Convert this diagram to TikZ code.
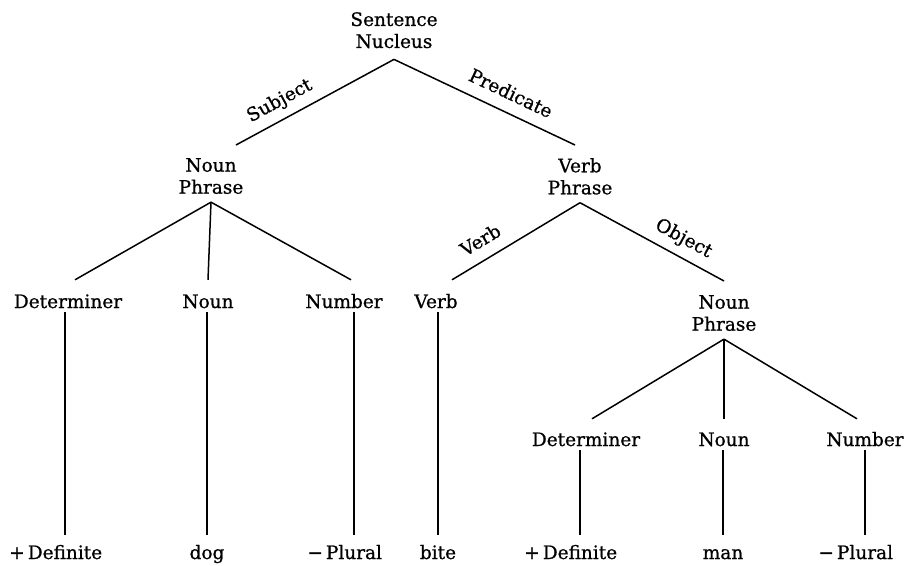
\documentclass[tikz,border=0pt]{standalone}
\usepackage{fontspec}
\setmainfont[FakeBold=0.8]{DejaVu Serif}
\def\TreeFont{\fontsize{18.5}{22}\selectfont}
\tikzset{
  cat/.style={font=\TreeFont, inner sep=0pt, align=center, anchor=north},
  word/.style={font=\TreeFont, inner sep=0pt, text height=14pt, text depth=4pt, anchor=base},
  branch/.style={line width=1.5pt},
  arc_label/.style={font=\TreeFont, sloped, above, inner sep=8pt, text depth=4pt},
}

\begin{document}
\begin{tikzpicture}[x=1pt,y=-1pt]
  \useasboundingbox (0,0) rectangle (907,565);

  % phrase nodes
  \node[cat] (sn) at (394,12) {Sentence\\Nucleus};
  \node[cat] (np_s) at (211,158) {Noun\\Phrase};
  \node[cat] (vp) at (580,158) {Verb\\Phrase};
  \node[cat] (np_o) at (724,295) {Noun\\Phrase};

  % categories
  \node[word] (det_s) at (68,308) {Determiner};
  \node[word] (noun_s) at (208,308) {Noun};
  \node[word] (num_s) at (344,308) {Number};
  \node[word] (verb) at (436,308) {Verb};
  \node[word] (det_o) at (586,446) {Determiner};
  \node[word] (noun_o) at (724,446) {Noun};
  \node[word] (num_o) at (865,446) {Number};

  % features and stems
  \node[word] (def_s) at (65,559) {\llap{+\,}Definite};
  \node[word] (dog) at (207,559) {dog};
  \node[word] (pl_s) at (354,559) {\llap{−\,}Plural};
  \node[word] (bite) at (438,559) {bite};
  \node[word] (def_o) at (580,559) {\llap{+\,}Definite};
  \node[word] (man) at (723,559) {man};
  \node[word] (pl_o) at (865,559) {\llap{−\,}Plural};

  % upper branches
  \draw[branch] ([xshift=25pt,yshift=13pt]np_s.north) -- node[arc_label,pos=0.33] {Subject} ([yshift=-11pt]sn.south);
  \draw[branch] ([yshift=-11pt]sn.south) -- node[arc_label,pos=0.6] {Predicate} ([xshift=-5pt,yshift=13pt]vp.north);
  \draw[branch] ([xshift=16pt,yshift=14pt]verb.north) -- node[arc_label,pos=0.3] {Verb} ([yshift=-8pt]vp.south);
  \draw[branch] ([yshift=-8pt]vp.south) -- node[arc_label,pos=0.66] {Object} ([yshift=14pt]np_o.north);

  % noun phrase branches
  \draw[branch] ([yshift=-8pt]np_s.south) -- ([xshift=7pt,yshift=14pt]det_s.north);
  \draw[branch] ([yshift=-8pt]np_s.south) -- ([yshift=14pt]noun_s.north);
  \draw[branch] ([yshift=-8pt]np_s.south) -- ([xshift=7pt,yshift=14pt]num_s.north);
  \draw[branch] ([yshift=-8pt]np_o.south) -- ([xshift=6pt,yshift=13pt]det_o.north);
  \draw[branch] ([yshift=-8pt]np_o.south) -- ([yshift=13pt]noun_o.north);
  \draw[branch] ([yshift=-8pt]np_o.south) -- ([xshift=-8pt,yshift=13pt]num_o.north);

  % stems
  \foreach \top/\leaf in {det_s/def_s, noun_s/dog, num_s/pl_s, verb/bite,
                          det_o/def_o, noun_o/man, num_o/pl_o}
    \draw[branch, shorten >=10pt] (\leaf.north |- \top.south) -- (\leaf.north);
\end{tikzpicture}
\end{document}
